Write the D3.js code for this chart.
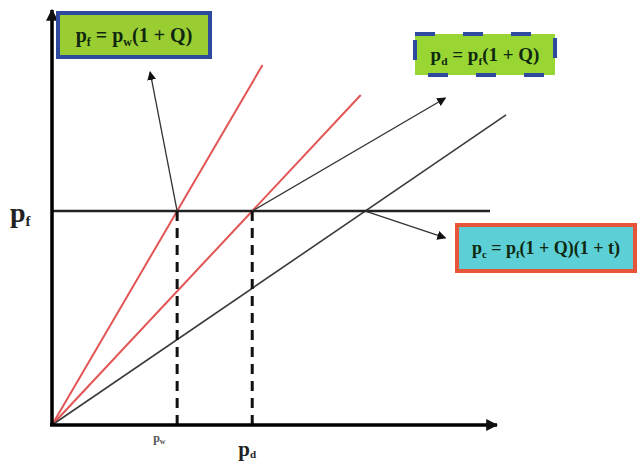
<!DOCTYPE html>
<html>
<head>
<meta charset="utf-8">
<script src="https://cdn.jsdelivr.net/npm/d3@7"></script>
<style>
  body { margin:0; background:#fff; }
  svg { display:block; }
  text { font-family:"Liberation Serif","Times New Roman",serif; font-weight:bold; }
</style>
</head>
<body>
<div id="chart"></div>
<script>
// price levels (abstract units, p_f = 1)
var pf = 1;
var kinkX = [1, 1.6, 2.504];          // p_w, p_d, p_c where each ray meets p_f
var rayEndY = [1.682, 1.542, 1.449];  // how far each ray runs up
var rayColor = ['red', 'red', 'black'];
var arrowTo = [[0.784, 1.65], [3.144, 1.528], [3.144, 0.874]];
var boxLabels = [
  [['p', ''], ['f', 'sub'], [' = p', ''], ['w', 'sub'], ['(1 + Q)', '']],
  [['p', ''], ['d', 'sub'], [' = p', ''], ['f', 'sub'], ['(1 + Q)', '']],
  [['p', ''], ['c', 'sub'], [' = p', ''], ['f', 'sub'], ['(1 + Q)(1 + t)', '']]
];
var xLabels = ['w', 'd'];

var w = 639, h = 465;
var svg = d3.select('#chart').append('svg').attr('width', w).attr('height', h);

var x = d3.scaleLinear().domain([0, 3.54]).range([52, 495]);
var y = d3.scaleLinear().domain([0, 1.93]).range([425, 12]);

var defs = svg.append('defs');
function marker(id, size) {
  defs.append('marker').attr('id', id).attr('viewBox', '0 0 10 10')
    .attr('refX', 9).attr('refY', 5).attr('markerWidth', size).attr('markerHeight', size)
    .attr('markerUnits', 'userSpaceOnUse').attr('orient', 'auto')
    .append('path').attr('d', 'M0,0 L10,5 L0,10 z').attr('fill', '#111');
}
marker('axisHead', 12);
marker('noteHead', 9);

// rays from the origin
svg.selectAll('.ray').data(kinkX).enter().append('line')
  .attr('class', 'ray')
  .attr('x1', x(0)).attr('y1', y(0))
  .attr('x2', function(d, i){ return x(rayEndY[i] * d / pf); })
  .attr('y2', function(d, i){ return y(rayEndY[i]); })
  .attr('stroke', function(d, i){ return rayColor[i] == 'red' ? '#e25555' : '#3a3a3a'; })
  .attr('stroke-width', function(d, i){ return rayColor[i] == 'red' ? 2 : 1.6; });

// p_f level
svg.append('line').attr('x1', x(0)).attr('x2', x(3.5)).attr('y1', y(pf)).attr('y2', y(pf))
  .attr('stroke', '#222').attr('stroke-width', 2.5);

// dashed drops
svg.selectAll('.drop').data(kinkX.slice(0, 2)).enter().append('line')
  .attr('class', 'drop')
  .attr('x1', function(d){ return x(d); }).attr('x2', function(d){ return x(d); })
  .attr('y1', y(pf)).attr('y2', y(0))
  .attr('stroke', '#111').attr('stroke-width', 3).attr('stroke-dasharray', '10,7');

// annotation arrows
svg.selectAll('.note').data(kinkX).enter().append('line')
  .attr('class', 'note')
  .attr('x1', function(d){ return x(d); }).attr('y1', y(pf))
  .attr('x2', function(d, i){ return x(arrowTo[i][0]); })
  .attr('y2', function(d, i){ return y(arrowTo[i][1]); })
  .attr('stroke', '#333').attr('stroke-width', 1.3)
  .attr('marker-end', 'url(#noteHead)');

// axes
svg.append('line').attr('x1', x(0)).attr('y1', y(0)).attr('x2', x(0)).attr('y2', 10)
  .attr('stroke', '#000').attr('stroke-width', 3.5).attr('marker-end', 'url(#axisHead)');
svg.append('line').attr('x1', x(0) - 2).attr('y1', y(0)).attr('x2', 497).attr('y2', y(0))
  .attr('stroke', '#000').attr('stroke-width', 3.5).attr('marker-end', 'url(#axisHead)');

// boxes
var boxes = [
  { x: 58, y: 13, w: 152, h: 44, fill: '#9acd32', stroke: '#2d4a9e', dash: null, size: 20 },
  { x: 415, y: 34, w: 140, h: 41, fill: '#99d633', stroke: '#2d4a9e', dash: '20,28', size: 19 },
  { x: 457, y: 225, w: 178, h: 46, fill: '#5cd0d6', stroke: '#e8563a', dash: null, size: 18 }
];
boxes.forEach(function(b, i){
  svg.append('rect').attr('x', b.x).attr('y', b.y).attr('width', b.w).attr('height', b.h)
    .attr('fill', b.fill).attr('stroke', b.stroke).attr('stroke-width', 4)
    .attr('stroke-dasharray', b.dash);
  var t = svg.append('text').attr('x', b.x + b.w / 2).attr('y', b.y + b.h / 2 + b.size * 0.33)
    .attr('text-anchor', 'middle').attr('font-size', b.size).attr('fill', '#102810');
  boxLabels[i].forEach(function(p){
    var s = t.append('tspan').text(p[0]);
    if (p[1] == 'sub') s.attr('font-size', b.size * 0.6).attr('dy', 4);
    else if (p[0] != 'p') s.attr('dy', -4);
  });
});

// axis labels
var pfLab = svg.append('text').attr('x', 10).attr('y', 222).attr('font-size', 28).attr('fill', '#222');
pfLab.append('tspan').text('p');
pfLab.append('tspan').text('f').attr('font-size', 15).attr('dy', 4);

svg.selectAll('.xlab').data(xLabels).enter().append('text')
  .attr('class', 'xlab')
  .attr('x', function(d, i){ return x(kinkX[i]) - (i ? 14 : 24); })
  .attr('y', function(d, i){ return i ? 456 : 442; })
  .attr('font-size', function(d, i){ return i ? 21 : 12; })
  .attr('fill', function(d, i){ return i ? '#222' : '#555'; })
  .each(function(d, i){
    d3.select(this).append('tspan').text('p');
    d3.select(this).append('tspan').text(d).attr('font-size', i ? 11 : 8).attr('dy', 2);
  });
</script>
</body>
</html>
